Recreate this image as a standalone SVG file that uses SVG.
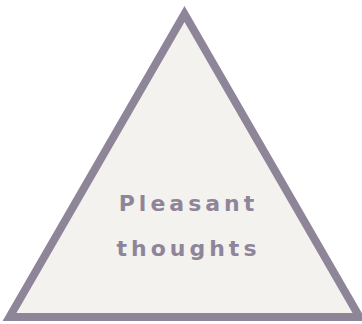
<svg xmlns="http://www.w3.org/2000/svg" width="362" height="324" viewBox="0 0 362 324">
<style>
.tri{fill:#f3f2ee;stroke:#8e8599;stroke-width:8;stroke-linejoin:miter;stroke-miterlimit:10}
.lbl{font-family:"DejaVu Sans",sans-serif;font-weight:bold;font-size:22px;fill:#8f8599;letter-spacing:4px}
</style>
<rect width="362" height="324" fill="#ffffff"/>
<g id="triangle">
<polygon class="tri" points="184.5,14 359.5,317 9.5,317"/>
</g>
<g id="label">
<text class="lbl" x="186.5" y="211" text-anchor="middle"><tspan dx="2">Pleasant</tspan></text>
<text class="lbl" x="186.5" y="256" text-anchor="middle"><tspan dx="2">thoughts</tspan></text>
</g>
</svg>
